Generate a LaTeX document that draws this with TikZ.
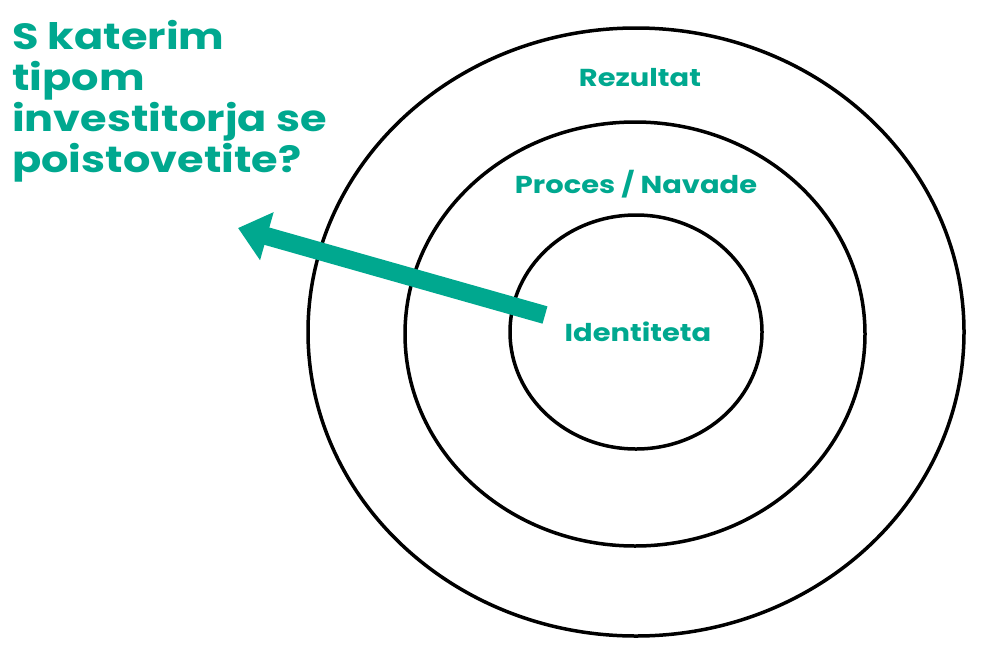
\documentclass[tikz,border=0pt]{standalone}
\usepackage{fontspec}
\setmainfont{Poppins}[FakeStretch=1.18]
\usetikzlibrary{arrows.meta}
\definecolor{teal1}{HTML}{00A88F}
\begin{document}
\begin{tikzpicture}[x=1pt,y=-1pt,
  ring/.style={draw=black,line width=3.5pt},
  lbl/.style={text=teal1,font=\bfseries\fontsize{24.5}{28}\selectfont}]
\useasboundingbox (0,0) rectangle (1000,667);
\draw[ring] (636,332) ellipse [x radius=328,y radius=304];
\draw[ring] (635,334) ellipse [x radius=230,y radius=212];
\draw[ring] (636,332) ellipse [x radius=126,y radius=117];
\node[lbl] (r) at (640,78) {Rezultat};
\node[lbl] (p) at (636,184) {Proces / Navade};
\node[lbl] (i) at (638,332) {Identiteta};
\coordinate (s) at (545,315);
\coordinate (t) at (238,228);
\draw[teal1,line width=18pt,-{Triangle[length=30pt,width=48pt]}] (s) -- (t);
\node[anchor=north west,align=left,text=teal1,inner sep=0pt,
  font=\bfseries\fontsize{36.5}{41}\selectfont] (q) at (12,20)
  {S katerim\\tipom\\investitorja se\\poistovetite?};
\end{tikzpicture}
\end{document}
